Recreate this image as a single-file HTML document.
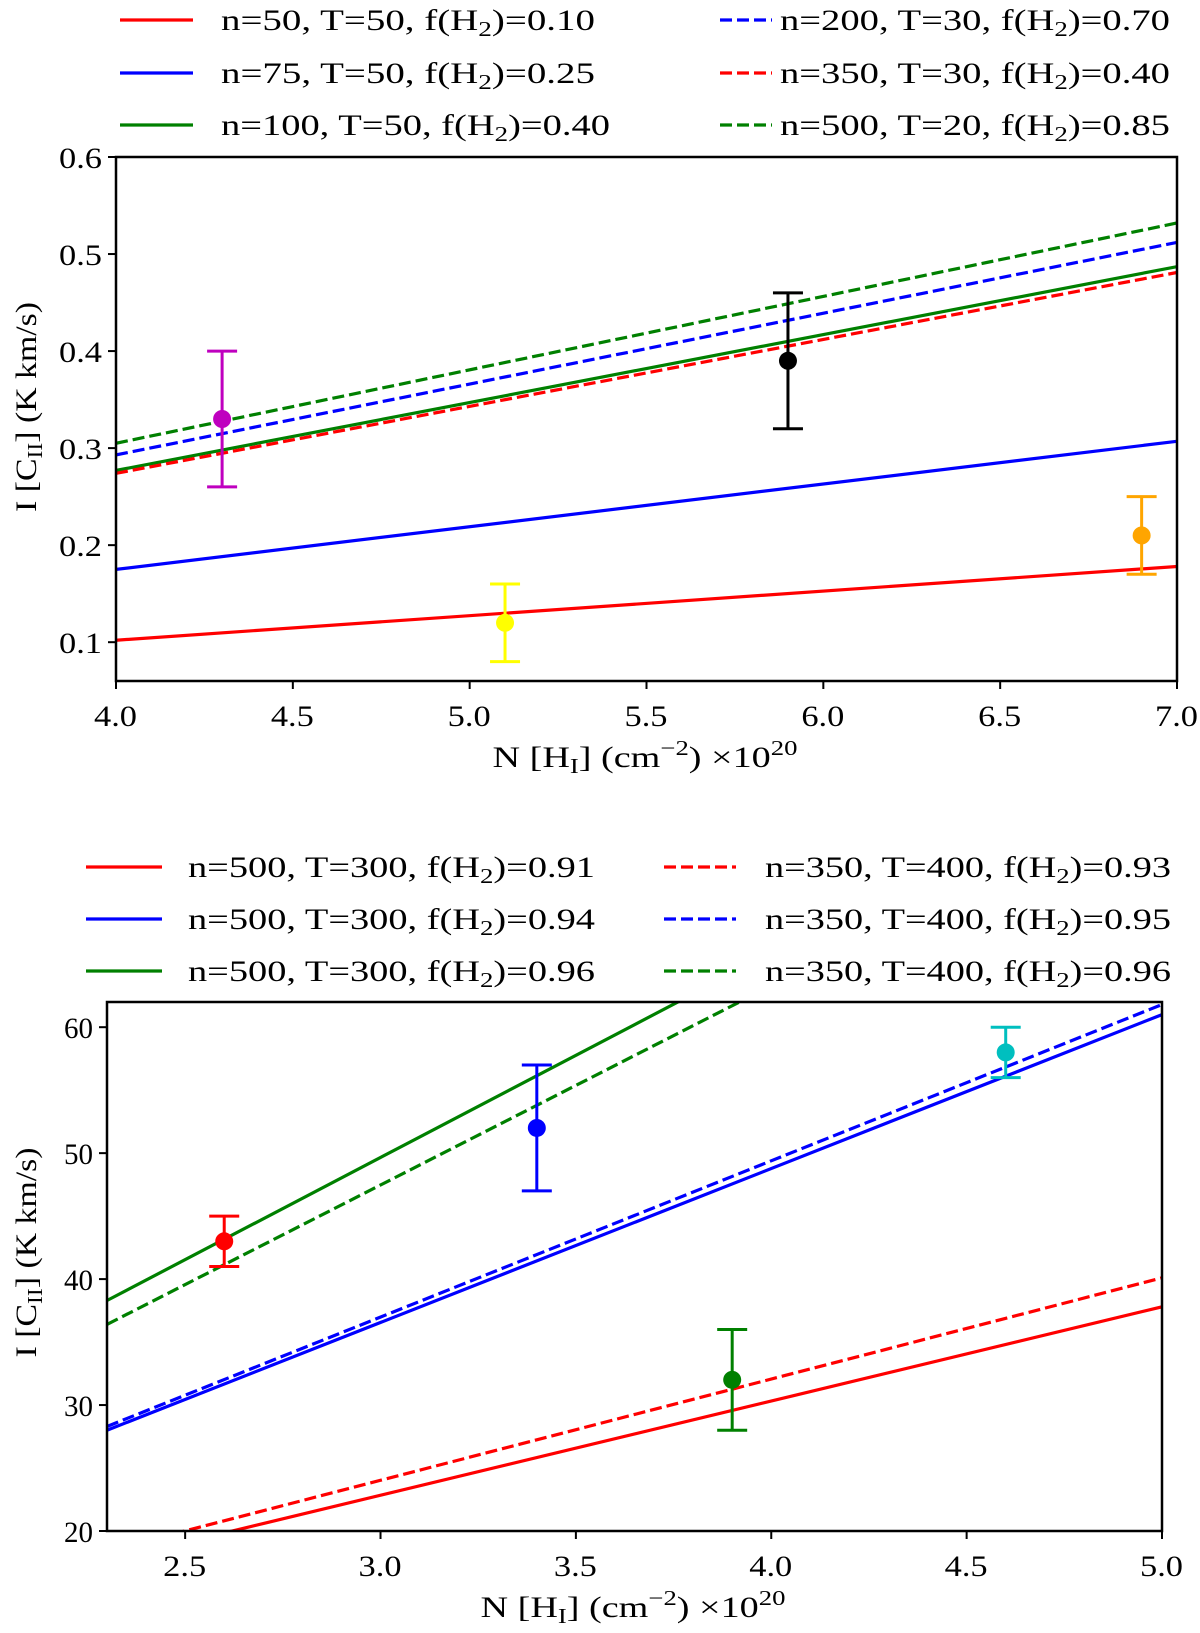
<!DOCTYPE html>
<html><head><meta charset="utf-8"><style>
body{margin:0;background:#fff}
svg{display:block;font-family:"Liberation Serif","DejaVu Serif",serif}
</style></head><body>
<svg id="s" width="1200" height="1633" viewBox="0 0 1200 1633"></svg>
<script>
// ---- Top chart data ----
const topXTicks=[4.0,4.5,5.0,5.5,6.0,6.5,7.0];
const topYTicks=[0.1,0.2,0.3,0.4,0.5,0.6];
const topLineNames=["n=50, T=50","n=75, T=50","n=100, T=50","n=200, T=30","n=350, T=30","n=500, T=20"];
const topLineFH2=["0.10","0.25","0.40","0.70","0.40","0.85"];
const topLineColors=["#ff0000","#0000ff","#008000","#0000ff","#ff0000","#008000"];
const topLineDash=[false,false,false,true,true,true];
const topLineStart=[0.102,0.175,0.277,0.293,0.274,0.305];
const topLineEnd=[0.178,0.307,0.487,0.512,0.481,0.532];
const topPtX=[4.3,5.9,5.1,6.9];
const topPtY=[0.33,0.39,0.12,0.21];
const topPtErr=[0.07,0.07,0.04,0.04];
const topPtColors=["#bf00bf","#000000","#ffff00","#ffa500"];
// ---- Bottom chart data ----
const botXTicks=[2.5,3.0,3.5,4.0,4.5,5.0];
const botYTicks=[20,30,40,50,60];
const botLineNames=["n=500, T=300","n=500, T=300","n=500, T=300","n=350, T=400","n=350, T=400","n=350, T=400"];
const botLineFH2=["0.91","0.94","0.96","0.93","0.95","0.96"];
const botLineColors=["#ff0000","#0000ff","#008000","#ff0000","#0000ff","#008000"];
const botLineDash=[false,false,false,true,true,true];
const botLineY0=[17.6,28.0,38.3,18.4,28.3,36.4];
const botLineY1=[37.8,61.0,82.1,40.1,61.8,79.1];
const botPtX=[2.6,3.4,3.9,4.6];
const botPtY=[43,52,32,58];
const botPtErr=[2,5,4,2];
const botPtColors=["#ff0000","#0000ff","#008000","#00bfbf"];

const NS="http://www.w3.org/2000/svg";
const svg=document.getElementById('s');
function el(tag,attrs,parent){const e=document.createElementNS(NS,tag);for(const k in attrs)e.setAttribute(k,attrs[k]);(parent||svg).appendChild(e);return e;}
function stretch(t,w){t.setAttribute('textLength',w);t.setAttribute('lengthAdjust','spacingAndGlyphs');}
function legendText(parent,x,y,name,fh,w){
  const t=el('text',{x:x,y:y,'font-size':30},parent);
  
  
  t.appendChild(document.createTextNode(name+", f(H"));
  const s=el('tspan',{'font-size':21,dy:6},t);s.textContent="2";
  const r=el('tspan',{dy:-6},t);r.textContent=")="+fh;
  stretch(t,w);
}
function drawChart(cfg){
  const g=el('g',{});
  
  
  const {L,R,T,B,x0,x1,y0,y1}=cfg;
  const sx=v=>L+(v-x0)/(x1-x0)*(R-L);
  const sy=v=>B-(v-y0)/(y1-y0)*(B-T);
  const clipId='c'+cfg.name;
  const cp=el('clipPath',{id:clipId},g);el('rect',{x:L,y:T,width:R-L,height:B-T},cp);
  const plot=el('g',{'clip-path':'url(#'+clipId+')'},g);
  for(let i=0;i<cfg.lineColors.length;i++){
    const ya=cfg.lineStart[i],yb=cfg.lineEnd[i];
    const ln=el('line',{x1:sx(x0),y1:sy(ya),x2:sx(x1),y2:sy(yb),stroke:cfg.lineColors[i],'stroke-width':3.2,'stroke-dasharray':cfg.lineDash[i]?'12,5':'none'},plot);
    
    
  }
  for(let i=0;i<cfg.ptX.length;i++){
    const c=cfg.ptColors[i],x=sx(cfg.ptX[i]),y=sy(cfg.ptY[i]);
    const yt=sy(cfg.ptY[i]+cfg.ptErr[i]),yb=sy(cfg.ptY[i]-cfg.ptErr[i]);
    const pg=el('g',{},g);
    
    
    el('line',{x1:x,y1:yt,x2:x,y2:yb,stroke:c,'stroke-width':3},pg);
    el('line',{x1:x-15,y1:yt,x2:x+15,y2:yt,stroke:c,'stroke-width':3},pg);
    el('line',{x1:x-15,y1:yb,x2:x+15,y2:yb,stroke:c,'stroke-width':3},pg);
    el('circle',{cx:x,cy:y,r:9,fill:c},pg);
  }
  const fr=el('rect',{x:L,y:T,width:R-L,height:B-T,fill:'none',stroke:'#000','stroke-width':2.5},g);
  
  
  cfg.xTicks.forEach(v=>{
    const x=sx(v);
    el('line',{x1:x,y1:B,x2:x,y2:B+8,stroke:'#000','stroke-width':2},g);
    const t=el('text',{x:x-22,y:B+45,'font-size':30},g);
    t.textContent=v.toFixed(1);
    stretch(t,43);
    
    
  });
  cfg.yTicks.forEach(v=>{
    const y=sy(v);
    el('line',{x1:L-8,y1:y,x2:L,y2:y,stroke:'#000','stroke-width':2},g);
    const s=cfg.yFmt(v);
    const w=s.length===3?43:29;
    const t=el('text',{x:L-14-w,y:y+11,'font-size':30},g);
    t.textContent=s;
    stretch(t,w);
    
    
  });
  const xt=el('text',{x:(L+R)/2-154,y:B+86,'font-size':30},g);
  
  
  xt.appendChild(document.createTextNode('N [H'));
  let s=el('tspan',{'font-size':21,dy:6},xt);s.textContent='I';
  s=el('tspan',{dy:-6},xt);s.textContent='] (cm';
  s=el('tspan',{'font-size':21,dy:-12},xt);s.textContent='−2';
  s=el('tspan',{dy:12},xt);s.textContent=') ×10';
  s=el('tspan',{'font-size':21,dy:-12},xt);s.textContent='20';
  stretch(xt,305);
  const yt=el('text',{x:-105+cfg.yTitleShift,y:0,'font-size':30,transform:`translate(${cfg.yTitleX},${(T+B)/2}) rotate(-90)`},g);
  
  
  yt.appendChild(document.createTextNode('I [C'));
  s=el('tspan',{'font-size':21,dy:6},yt);s.textContent='II';
  s=el('tspan',{dy:-6},yt);s.textContent='] (K km/s)';
  stretch(yt,210);
  const lg=el('g',{},g);
  
  
  for(let i=0;i<cfg.lineColors.length;i++){
    const col=i<3?0:1,row=i%3;
    const y=cfg.legRows[row];
    const lx=cfg.legLineX[col];
    el('line',{x1:lx[0],y1:y,x2:lx[1],y2:y,stroke:cfg.lineColors[i],'stroke-width':3.2,'stroke-dasharray':cfg.lineDash[i]?'12,5':'none'},lg);
    legendText(lg,cfg.legTextX[col],y+10,cfg.lineNames[i],cfg.lineFH2[i],cfg.legW[i]);
  }
}
drawChart({name:'top-chart',L:116,R:1177,T:157,B:681,x0:4.0,x1:7.0,y0:0.06,y1:0.6,
  lineStart:topLineStart,lineEnd:topLineEnd,
  lineColors:topLineColors,lineDash:topLineDash,lineNames:topLineNames,lineFH2:topLineFH2,
  ptX:topPtX,ptY:topPtY,ptErr:topPtErr,ptColors:topPtColors,
  xTicks:topXTicks,yTicks:topYTicks,yFmt:v=>v.toFixed(1),yTitleX:36,yTitleShift:12,
  legRows:[20,73,125],legLineX:[[120,193],[720,772]],legTextX:[221,780],
  legW:[374,374,389,390,390,390]});
drawChart({name:'bottom-chart',L:107,R:1162,T:1002,B:1531,x0:2.3,x1:5.0,y0:20,y1:62,
  lineStart:botLineY0,lineEnd:botLineY1,
  lineColors:botLineColors,lineDash:botLineDash,lineNames:botLineNames,lineFH2:botLineFH2,
  ptX:botPtX,ptY:botPtY,ptErr:botPtErr,ptColors:botPtColors,
  xTicks:botXTicks,yTicks:botYTicks,yFmt:v=>String(v),yTitleX:36,yTitleShift:14,
  legRows:[867,919,971],legLineX:[[86,162],[664,736]],legTextX:[188,765],
  legW:[407,407,407,406,406,406]});
</script>
</body></html>
